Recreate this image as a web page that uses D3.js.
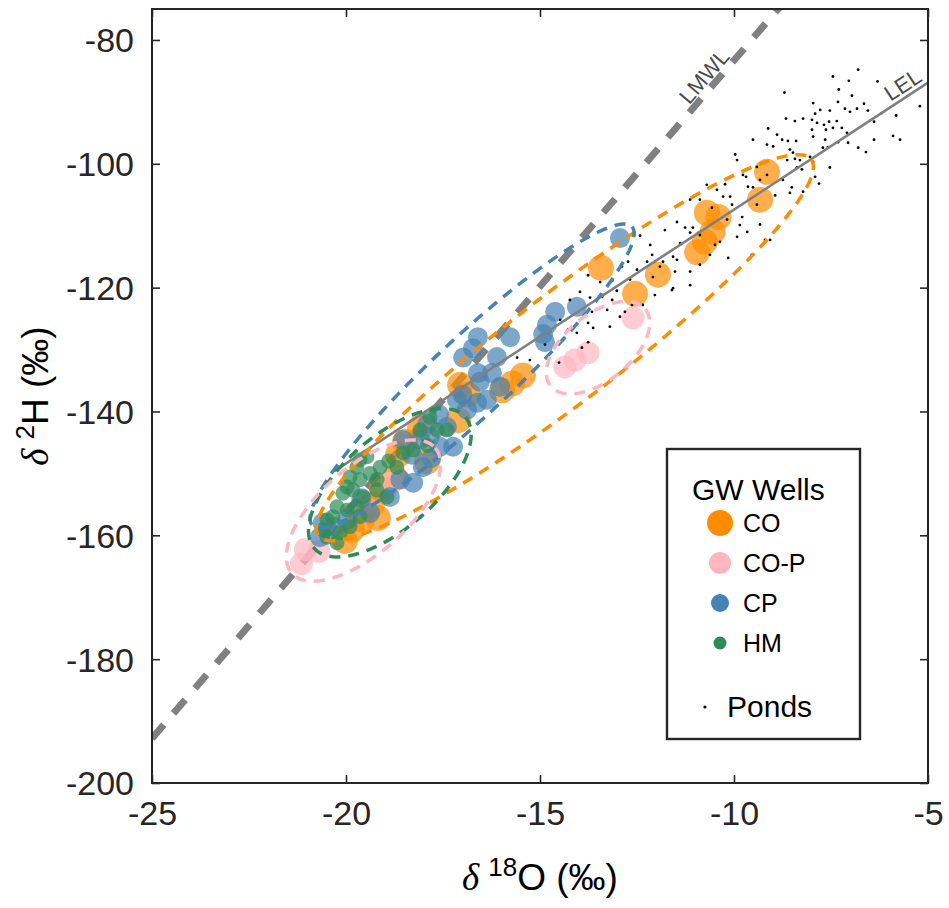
<!DOCTYPE html>
<html>
<head>
<meta charset="utf-8">
<script src="https://cdn.jsdelivr.net/npm/d3@7"></script>
<style>
  body { margin: 0; background: #fff; }
  text { font-family: "Liberation Sans", Arial, sans-serif; }
</style>
</head>
<body>
<svg id="chart" width="949" height="908"></svg>
<script>
// ---- data: δ18O, δ2H (‰) ----
const coPoints = [
  [-9.15,-101.3],[-9.33,-105.8],[-10.70,-107.9],[-10.40,-108.6],[-10.55,-111.0],[-10.75,-112.6],
  [-10.95,-114.3],[-11.96,-117.9],[-12.55,-121.0],[-13.43,-116.8],[-15.44,-134.2],[-15.72,-135.5],
  [-15.98,-136.6],[-17.06,-135.7],[-16.86,-137.3],[-17.11,-141.4],[-18.09,-142.6],[-18.48,-144.9],
  [-18.66,-147.0],[-17.91,-148.1],[-18.74,-150.7],[-19.07,-152.6],[-19.33,-155.1],[-19.18,-157.2],
  [-19.59,-157.5],[-19.85,-159.1],[-20.03,-160.9]
];
const coPPoints = [
  [-12.60,-124.9],[-13.76,-130.5],[-14.10,-131.7],[-14.36,-132.8],
  [-18.85,-151.6],[-20.70,-162.6],[-21.05,-162.3],[-21.15,-164.6]
];
const cpPoints = [
  [-12.94,-112.0],[-14.05,-123.1],[-14.61,-123.9],[-14.82,-126.0],[-14.92,-127.5],[-14.87,-128.8],
  [-15.77,-128.0],[-16.11,-131.2],[-16.60,-128.0],[-16.73,-129.8],[-16.98,-131.3],[-16.24,-133.8],
  [-16.60,-133.8],[-16.03,-136.0],[-16.55,-135.2],[-17.00,-137.3],[-16.62,-138.6],[-16.37,-138.1],
  [-16.88,-139.7],[-17.14,-138.1],[-17.40,-142.5],[-17.84,-144.1],[-17.58,-145.7],[-17.24,-145.7],
  [-18.09,-144.6],[-18.53,-144.6],[-18.02,-149.0],[-18.27,-151.5],[-18.60,-151.0],[-18.87,-153.8],
  [-19.38,-156.4],[-19.97,-157.5],[-20.30,-158.6],[-20.67,-160.3],[-20.60,-158.0],[-17.60,-140.5],
  [-17.90,-142.0],[-18.30,-147.0],[-17.80,-147.5],[-19.60,-154.0]
];
const hmPoints = [
  [-19.64,-147.8],[-19.90,-150.6],[-19.38,-150.0],[-19.12,-149.0],[-19.20,-151.0],[-18.69,-149.0],
  [-18.53,-146.7],[-18.27,-146.2],[-18.09,-143.0],[-17.65,-143.0],[-17.40,-143.0],[-17.84,-140.9],
  [-20.08,-153.2],[-19.82,-152.7],[-19.56,-153.8],[-19.20,-152.7],[-18.94,-153.8],[-19.72,-155.4],
  [-19.97,-155.9],[-20.23,-155.4],[-20.34,-157.0],[-20.49,-157.5],[-20.60,-159.1],[-20.49,-160.3],
  [-20.15,-159.6],[-19.90,-158.6],[-19.64,-157.0],[-20.23,-161.2],[-19.64,-151.0],[-19.97,-152.2],
  [-19.72,-149.0],[-19.46,-147.3],[-18.90,-148.0],[-17.90,-145.5]
];
const pondPoints = [
  [-7.45,-85.9],[-6.80,-84.8],[-7.04,-86.6],[-7.32,-90.0],[-6.96,-89.0],[-7.96,-90.2],[-7.78,-91.3],
  [-7.91,-91.9],[-7.53,-91.4],[-7.55,-93.2],[-7.35,-93.1],[-7.14,-91.1],[-7.01,-91.6],[-6.83,-91.1],
  [-6.65,-90.3],[-6.55,-91.4],[-8.66,-92.7],[-8.43,-93.1],[-8.22,-92.7],[-7.99,-92.9],[-7.86,-93.4],
  [-7.68,-93.7],[-7.63,-94.5],[-7.45,-94.2],[-7.22,-94.2],[-7.09,-95.0],[-7.99,-94.5],[-7.96,-95.6],
  [-7.65,-96.1],[-7.58,-97.3],[-7.32,-96.5],[-7.06,-96.6],[-6.39,-93.2],[-6.19,-91.8],[-5.82,-92.2],
  [-5.21,-90.7],[-6.39,-96.1],[-6.80,-97.4],[-6.60,-98.1],[-7.71,-97.4],[-9.12,-94.3],[-8.89,-95.3],
  [-8.76,-96.1],[-8.61,-96.3],[-8.40,-96.3],[-9.51,-96.1],[-9.15,-96.9],[-8.99,-97.2],[-8.56,-97.7],
  [-8.48,-98.2],[-8.63,-99.4],[-8.43,-99.2],[-8.30,-99.4],[-8.04,-98.9],[-7.96,-99.7],[-7.53,-100.6],
  [-8.25,-100.9],[-8.38,-100.6],[-9.97,-98.5],[-9.92,-99.4],[-9.77,-101.8],[-9.69,-102.1],[-9.41,-100.5],
  [-9.15,-101.8],[-9.64,-103.7],[-9.51,-103.8],[-8.74,-102.6],[-8.51,-103.8],[-8.56,-104.7],[-8.22,-104.5],
  [-7.91,-102.1],[-7.81,-103.2],[-10.70,-103.4],[-10.44,-104.2],[-10.28,-105.3],[-10.10,-105.3],
  [-10.05,-106.6],[-9.79,-108.6],[-9.66,-111.0],[-9.92,-111.8],[-11.47,-109.4],[-11.26,-110.3],
  [-11.06,-110.3],[-11.13,-111.1],[-11.39,-112.8],[-10.36,-112.6],[-11.57,-115.0],[-11.47,-115.5],
  [-11.13,-117.4],[-12.11,-114.7],[-12.24,-115.8],[-11.91,-116.6],[-12.50,-117.1],[-12.68,-118.7],
  [-12.89,-116.6],[-11.60,-120.4],[-12.09,-118.3],[-11.83,-115.8],[-11.52,-117.4],[-13.14,-118.9],
  [-13.02,-120.5],[-13.76,-118.0],[-13.40,-121.5],[-13.71,-121.6],[-12.94,-124.7],[-13.20,-126.3],
  [-13.63,-126.5],[-13.76,-125.7],[-13.92,-129.7],[-13.38,-121.2],[-13.27,-123.6],[-13.66,-123.9],
  [-12.81,-123.9],[-14.05,-127.3],[-14.28,-126.8],[-13.76,-128.8],[-15.59,-131.3],[-14.51,-132.1],
  [-11.57,-120.1],[-12.35,-122.8],[-10.88,-105.8],[-10.57,-107.1],[-10.18,-109.0],[-9.41,-106.6],
  [-9.33,-109.8],[-9.20,-112.3],[-10.88,-116.3],[-10.62,-114.7],[-8.70,-88.5],[-6.30,-86.7],
  [-5.90,-95.5],[-7.30,-88.0],
  [-11.13,-105.8],[-10.23,-103.3],[-11.78,-110.7],[-12.16,-113.1],[-12.42,-111.6],[-12.73,-115.8],
  [-13.45,-119.1],[-13.97,-120.7],[-14.23,-122.0],[-13.14,-122.0],[-10.88,-111.5],[-10.49,-113.1],
  [-10.15,-115.2],[-9.54,-114.7],[-9.07,-112.3],[-9.85,-109.9],[-9.33,-102.6],[-8.94,-105.1],
  [-11.13,-119.6],[-12.04,-121.2],[-12.63,-122.8],[-14.48,-125.2],[-14.87,-129.2],[-15.26,-131.7],
  [-5.72,-96.1]
];

// confidence ellipses: centre, major half-axis, minor half-axis (data units)
const coEllipse  = [[-14.36,-129.7],[6.35,30.4],[0.845,-6.93]];
const cpEllipse  = [[-16.75,-134.25],[4.12,24.09],[0.686,-4.6]];
const hmEllipse  = [[-18.87,-151.5],[1.946,10.6],[0.778,-5.61]];
const coPEllipseA = [[-19.55,-156.0],[1.85,10.1],[0.73,-5.3]];
const coPEllipseB = [[-13.505,-129.7],[1.22,6.2],[0.535,-4.14]];

// water lines: δ2H = slope·δ18O + intercept
const lmwl = { slope: 7.3, intercept: -10.3, from: -25, to: -5 };
const lel  = { slope: 4.1, intercept: -66.4, from: -20.3, to: -5 };

const xTicks = [-25, -20, -15, -10, -5];
const yTicks = [-200, -180, -160, -140, -120, -100, -80];

const groups = ["CO", "CO-P", "CP", "HM"];
const groupColors = ["#ff8c00", "#ffb6c1", "#4682b4", "#2e8b57"];
const groupRadius = [13, 11.5, 10, 7.5];
const legendRadius = [13, 11, 9, 6.5];

// ---- chart ----
const svg = d3.select("#chart");
svg.append("rect").attr("width", 949).attr("height", 908).attr("fill", "#fff");

const pL = 152, pR = 928, pT = 9, pB = 783;
const x = d3.scaleLinear().domain([-25, -5]).range([pL, pR]);
const y = d3.scaleLinear().domain([-200, -75]).range([pB, pT]);

svg.append("defs").append("clipPath").attr("id", "plotClip")
  .append("rect").attr("x", pL).attr("y", pT).attr("width", pR - pL).attr("height", pB - pT);

const plot = svg.append("g").attr("clip-path", "url(#plotClip)");

// LMWL
plot.append("line")
  .attr("x1", x(lmwl.from)).attr("y1", y(lmwl.slope * lmwl.from + lmwl.intercept))
  .attr("x2", x(lmwl.to)).attr("y2", y(lmwl.slope * lmwl.to + lmwl.intercept))
  .attr("stroke", "#808080").attr("stroke-width", 7).attr("stroke-dasharray", "18 15");

function drawPoints(data, i) {
  plot.append("g").selectAll("circle").data(data).join("circle")
    .attr("cx", d => x(d[0])).attr("cy", d => y(d[1]))
    .attr("r", groupRadius[i]).attr("fill", groupColors[i]).attr("fill-opacity", 0.7);
}
drawPoints(coPoints, 0);
drawPoints(coPPoints, 1);
drawPoints(cpPoints, 2);
drawPoints(hmPoints, 3);

plot.append("g").selectAll("circle").data(pondPoints).join("circle")
  .attr("cx", d => x(d[0])).attr("cy", d => y(d[1])).attr("r", 1.4).attr("fill", "#000");

// LEL
plot.append("line")
  .attr("x1", x(lel.from)).attr("y1", y(lel.slope * lel.from + lel.intercept))
  .attr("x2", x(lel.to)).attr("y2", y(lel.slope * lel.to + lel.intercept))
  .attr("stroke", "#808080").attr("stroke-width", 2.6);

// ellipses
const ellipseLine = d3.line().curve(d3.curveLinearClosed);
function drawEllipse(e, color) {
  const [c, a, b] = e;
  const pts = d3.range(0, 2 * Math.PI, Math.PI / 90).map(t => [
    x(c[0] + a[0] * Math.cos(t) + b[0] * Math.sin(t)),
    y(c[1] + a[1] * Math.cos(t) + b[1] * Math.sin(t))
  ]);
  plot.append("path").attr("d", ellipseLine(pts))
    .attr("fill", "none").attr("stroke", color).attr("stroke-width", 3.5)
    .attr("stroke-dasharray", "11 8");
}
drawEllipse(coEllipse, groupColors[0]);
drawEllipse(cpEllipse, groupColors[2]);
drawEllipse(hmEllipse, groupColors[3]);
drawEllipse(coPEllipseA, groupColors[1]);
drawEllipse(coPEllipseB, groupColors[1]);

// line labels
function lineLabel(line, atX, text, offset) {
  const px = x(atX), py = y(line.slope * atX + line.intercept);
  const ang = Math.atan2(y(line.slope * (atX + 1) + line.intercept) - py, x(atX + 1) - px) * 180 / Math.PI;
  svg.append("text")
    .attr("transform", `translate(${px},${py}) rotate(${ang})`)
    .attr("y", -offset).attr("dominant-baseline", "central")
    .attr("text-anchor", "middle").attr("font-size", 22).attr("fill", "#4a4a4a")
    .text(text);
}
lineLabel(lmwl, -10.53, "LMWL", 12);
lineLabel(lel, -5.48, "LEL", 12);

// axes (ticks inside on all sides)
const fmt = d => String(d);
const axB = svg.append("g").attr("transform", `translate(0,${pB})`)
  .call(d3.axisBottom(x).tickValues(xTicks).tickSizeInner(-8).tickSizeOuter(0).tickPadding(18).tickFormat(fmt));
const axL = svg.append("g").attr("transform", `translate(${pL},0)`)
  .call(d3.axisLeft(y).tickValues(yTicks).tickSizeInner(-8).tickSizeOuter(0).tickPadding(18).tickFormat(fmt));
const axT = svg.append("g").attr("transform", `translate(0,${pT})`)
  .call(d3.axisTop(x).tickValues(xTicks).tickSizeInner(-8).tickSizeOuter(0).tickFormat(""));
const axR = svg.append("g").attr("transform", `translate(${pR},0)`)
  .call(d3.axisRight(y).tickValues(yTicks).tickSizeInner(-8).tickSizeOuter(0).tickFormat(""));
[axB, axL, axT, axR].forEach(g => {
  g.select(".domain").remove();
  g.selectAll(".tick line").attr("stroke", "#262626").attr("stroke-width", 1.6);
  g.selectAll(".tick text").attr("font-size", 34).attr("fill", "#262626")
    .attr("font-family", "'Liberation Sans', Arial, sans-serif");
});
axL.selectAll(".tick text").attr("dy", "0.35em");

svg.append("rect").attr("x", pL).attr("y", pT).attr("width", pR - pL).attr("height", pB - pT)
  .attr("fill", "none").attr("stroke", "#262626").attr("stroke-width", 2);

// axis titles
const xt = svg.append("text").attr("x", (pL + pR) / 2).attr("y", 890)
  .attr("text-anchor", "middle").attr("font-size", 37).attr("fill", "#000");
xt.append("tspan").attr("font-family", "'Liberation Serif', serif").attr("font-style", "italic").text("δ");
xt.append("tspan").attr("font-size", 26).attr("dy", -14).attr("dx", 9).text("18");
xt.append("tspan").attr("dy", 14).text("O (‰)");

const yt = svg.append("text").attr("transform", `translate(48,${(pT + pB) / 2}) rotate(-90)`)
  .attr("text-anchor", "middle").attr("font-size", 37).attr("fill", "#000");
yt.append("tspan").attr("font-family", "'Liberation Serif', serif").attr("font-style", "italic").text("δ");
yt.append("tspan").attr("font-size", 26).attr("dy", -14).attr("dx", 9).text("2");
yt.append("tspan").attr("dy", 14).text("H (‰)");

// legend
const lg = svg.append("g");
lg.append("rect").attr("x", 667).attr("y", 449).attr("width", 193).attr("height", 290)
  .attr("fill", "#fff").attr("stroke", "#262626").attr("stroke-width", 2.4);
lg.append("text").attr("x", 692).attr("y", 500).attr("font-size", 30).attr("fill", "#000").text("GW Wells");
groups.forEach((g, i) => {
  const cy = 523 + i * 40;
  lg.append("circle").attr("cx", 720).attr("cy", cy).attr("r", legendRadius[i]).attr("fill", groupColors[i]);
  lg.append("text").attr("x", 743).attr("y", cy + 9).attr("font-size", 25).attr("fill", "#000").text(g);
});
lg.append("circle").attr("cx", 705).attr("cy", 707).attr("r", 1.6).attr("fill", "#000");
lg.append("text").attr("x", 727).attr("y", 717).attr("font-size", 30).attr("fill", "#000").text("Ponds");
</script>
</body>
</html>
